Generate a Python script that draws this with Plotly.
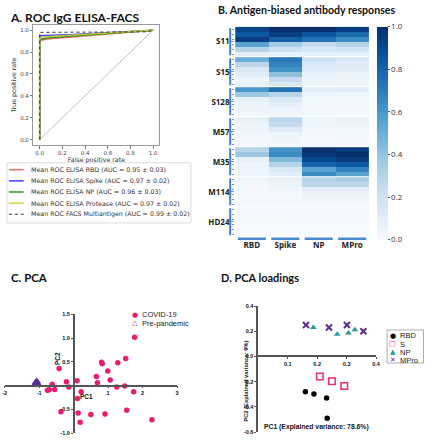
import plotly.graph_objects as go

W, H = 429, 440
def px(x): return x / W
def py(y): return 1 - y / H

# ---------------- Panel A data (ROC) ----------------
roc_labels = [
    "Mean ROC ELISA RBD (AUC = 0.95 ± 0.03)",
    "Mean ROC ELISA Spike (AUC = 0.97 ± 0.02)",
    "Mean ROC ELISA NP (AUC = 0.96 ± 0.03)",
    "Mean ROC ELISA Protease (AUC = 0.97 ± 0.02)",
    "Mean ROC FACS Multiantigen (AUC = 0.99 ± 0.02)",
]
fpr_rbd = [0, 0.0, 0.02, 0.07, 1.0]
tpr_rbd = [0, 0.90, 0.91, 0.92, 1.0]
fpr_spike = [0, 0.0, 0.3, 1.0]
tpr_spike = [0, 0.95, 0.96, 1.0]
fpr_np = [0, 0.0, 0.02, 0.07, 1.0]
tpr_np = [0, 0.91, 0.92, 0.93, 1.0]
fpr_prot = [0, 0.0, 0.05, 1.0]
tpr_prot = [0, 0.93, 0.94, 1.0]
fpr_facs = [0, 0.0, 0.95, 1.0]
tpr_facs = [0, 0.98, 0.985, 1.0]
roc_colors = ["rgba(240,90,90,0.9)", "rgba(40,40,255,0.9)", "rgba(20,150,20,0.95)",
              "rgba(205,205,50,0.9)", "#333"]

# ---------------- Panel B data (heatmap) ----------------
antigens = ["RBD", "Spike", "NP", "MPro"]
groups = ["S11", "S15", "S128", "M57", "M35", "M114", "HD24"]
S11 = [[0.92, 1.00, 1.00, 0.95], [0.85, 0.95, 0.85, 0.78], [0.95, 0.82, 0.75, 0.65],
       [0.55, 0.35, 0.25, 0.30], [0.30, 0.20, 0.15, 0.18], [0.10, 0.08, 0.08, 0.08]]
S15 = [[0.50, 0.72, 0.20, 0.15], [0.28, 0.68, 0.15, 0.12], [0.15, 0.62, 0.12, 0.10],
       [0.10, 0.42, 0.08, 0.06], [0.05, 0.25, 0.05, 0.05], [0.08, 0.15, 0.05, 0.05]]
S128 = [[0.60, 0.75, 0.10, 0.12], [0.38, 0.30, 0.05, 0.05], [0.08, 0.15, 0.03, 0.03],
        [0.06, 0.10, 0.03, 0.03], [0.05, 0.06, 0.02, 0.02], [0.03, 0.04, 0.02, 0.02]]
M57 = [[0.08, 0.28, 0.05, 0.08], [0.06, 0.25, 0.05, 0.06], [0.05, 0.12, 0.03, 0.04],
       [0.03, 0.06, 0.02, 0.03], [0.03, 0.04, 0.02, 0.02], [0.02, 0.03, 0.02, 0.02]]
M35 = [[0.30, 0.62, 1.00, 0.95], [0.38, 0.65, 0.97, 1.00], [0.08, 0.45, 0.90, 0.95],
       [0.05, 0.30, 0.80, 0.85], [0.05, 0.15, 0.55, 0.68], [0.05, 0.10, 0.65, 0.55]]
M114 = [[0.05, 0.08, 0.30, 0.35], [0.03, 0.05, 0.28, 0.28], [0.02, 0.03, 0.10, 0.10],
        [0.02, 0.02, 0.07, 0.07], [0.02, 0.02, 0.04, 0.04], [0.02, 0.02, 0.03, 0.03]]
HD24 = [[0.02, 0.02, 0.02, 0.02], [0.02, 0.02, 0.02, 0.02], [0.01, 0.01, 0.02, 0.02],
        [0.01, 0.01, 0.01, 0.01], [0.01, 0.01, 0.01, 0.01], [0.01, 0.01, 0.01, 0.01]]
group_rows = [S11, S15, S128, M57, M35, M114, HD24]
colorbar_ticks = [0.0, 0.2, 0.4, 0.6, 0.8, 1.0]

# ---------------- Panel C data (PCA) ----------------
covid_pc1 = [1.77, 1.51, 1.28, 0.81, 0.83, 0.99, -0.42, 0.66, 1.06, 0.69, 0.10, -0.21,
             -0.62, -0.14, -0.71, -0.55, -0.76, 1.25, 1.48, 1.74, 0.22, 0.11, -0.37,
             0.13, 0.50, 0.91, 1.54, 2.27, 0.19]
covid_pc2 = [1.02, 0.57, 0.48, 0.49, 0.46, 0.31, 0.36, 0.19, 0.12, 0.06, 0.10, 0.08,
             0.03, -0.03, -0.09, -0.08, -0.10, -0.03, -0.01, -0.13, -0.13, -0.27, -0.55,
             -0.58, -0.61, -0.60, -0.52, -0.72, -0.77]
pre_pc1 = [-1.10, -1.07, -1.05, -1.09, -1.12]
pre_pc2 = [0.03, 0.08, 0.04, 0.06, 0.02]
pca_xticks = [-2, -1, 1, 2, 3]
pca_yticks = [-1.0, -0.5, 0.5, 1.0, 1.5]

# ---------------- Panel D data (loadings) ----------------
rbd_pc1 = [0.160, 0.189, 0.232, 0.234]
rbd_pc2 = [-0.280, -0.297, -0.329, -0.490]
s_pc1 = [0.209, 0.250, 0.292]
s_pc2 = [-0.158, -0.197, -0.234]
np_pc1 = [0.187, 0.268, 0.306, 0.328]
np_pc2 = [0.230, 0.176, 0.187, 0.213]
mpro_pc1 = [0.162, 0.240, 0.301, 0.357]
mpro_pc2 = [0.250, 0.230, 0.250, 0.200]
load_xticks = [0.1, 0.2, 0.3, 0.4]
load_yticks = [-0.6, -0.4, -0.2, 0.0, 0.2, 0.4]

fig = go.Figure()
shapes, annots = [], []
def title_font(size):
    return dict(family="Lato", size=size, color="#111", weight="bold")

# ===== Panel A =====
rocs = [(fpr_rbd, tpr_rbd), (fpr_spike, tpr_spike), (fpr_np, tpr_np),
        (fpr_prot, tpr_prot), (fpr_facs, tpr_facs)]
fig.add_trace(go.Scatter(x=[0, 1], y=[0, 1], mode="lines", xaxis="x", yaxis="y",
                         line=dict(color="#b0b0b0", width=0.8), showlegend=False))
for i, (fx, ty) in enumerate(rocs):
    fig.add_trace(go.Scatter(x=fx, y=ty, mode="lines", xaxis="x", yaxis="y",
                             line=dict(color=roc_colors[i], width=1.0 if i == 4 else 1.5,
                                       dash="dot" if i == 4 else "solid"),
                             showlegend=False))
shapes.append(dict(type="rect", xref="paper", yref="paper", x0=px(5), x1=px(192),
                   y0=py(223), y1=py(162), line=dict(color="#dcdcdc", width=1)))
for i, lab in enumerate(roc_labels):
    yy = py(169 + i * 11.3)
    shapes.append(dict(type="line", xref="paper", yref="paper", x0=px(7), x1=px(22),
                       y0=yy, y1=yy,
                       line=dict(color=roc_colors[i], width=1.0 if i == 4 else 1.5,
                                 dash="dot" if i == 4 else "solid")))
    annots.append(dict(text=lab, xref="paper", yref="paper", x=px(27), y=yy,
                       xanchor="left", yanchor="middle", showarrow=False,
                       font=dict(family="DejaVu Sans", size=6.3, color="#333")))
annots.append(dict(text="A. ROC IgG ELISA-FACS", xref="paper", yref="paper", x=px(6),
                   y=py(15), xanchor="left", yanchor="middle", showarrow=False,
                   font=title_font(12)))

# ===== Panel B =====
z = [row for g in group_rows for row in g]
nrows = len(z)
blues = [[0.0, "#f7fbff"], [0.125, "#deebf7"], [0.25, "#c6dbef"], [0.375, "#9ecae1"],
         [0.5, "#6baed6"], [0.625, "#4292c6"], [0.75, "#2171b5"], [0.875, "#08519c"],
         [1.0, "#08306b"]]
fig.add_trace(go.Heatmap(
    z=z, x=antigens, y=list(range(nrows)), xaxis="x2", yaxis="y2",
    colorscale=blues, zmin=0, zmax=1, showscale=True,
    colorbar=dict(thickness=11, lenmode="pixels", len=213, x=px(381), xanchor="left",
                  y=py(24), yanchor="top", xpad=0, ypad=0, outlinewidth=0,
                  tickvals=colorbar_ticks, ticktext=[f"{v:.1f}" for v in colorbar_ticks],
                  ticks="outside", ticklen=2, tickcolor="#555",
                  tickfont=dict(family="Open Sans", size=8, color="#333"))))
per = nrows // len(groups)
for g in range(1, len(groups)):
    shapes.append(dict(type="line", xref="x2 domain", yref="y2", x0=0, x1=1,
                       y0=g * per - 0.5, y1=g * per - 0.5, line=dict(color="white", width=1)))
for g in range(len(groups)):
    shapes.append(dict(type="line", xref="paper", yref="y2", x0=px(232), x1=px(232),
                       y0=g * per - 0.5 + 0.3, y1=g * per + per - 0.5 - 0.3,
                       line=dict(color="#3f7fcb", width=2)))
for i in range(len(antigens)):
    shapes.append(dict(type="line", xref="x2", yref="paper", x0=i - 0.42, x1=i + 0.42,
                       y0=py(239), y1=py(239), line=dict(color="#4a89cc", width=2.5)))
annots.append(dict(text="B. Antigen-biased antibody responses", xref="paper", yref="paper",
                   x=px(218), y=py(7), xanchor="left", yanchor="middle", showarrow=False,
                   font=title_font(10.6)))

# ===== Panel C =====
fig.add_trace(go.Scatter(x=covid_pc1, y=covid_pc2, mode="markers", xaxis="x3", yaxis="y3",
                         marker=dict(color="#ee1c6c", size=5.5), cliponaxis=False,
                         showlegend=False))
fig.add_trace(go.Scatter(x=pre_pc1, y=pre_pc2, mode="markers", xaxis="x3", yaxis="y3",
                         marker=dict(symbol="triangle-up-open", color="#5a2d9c", size=6,
                                     line=dict(width=1.5)), cliponaxis=False, showlegend=False))
c_x0, c_x1 = px(2.7), px(178)
c_y0, c_y1 = py(436), py(315.7)
c_xr, c_yr = [-2, 3], [-1, 1.5]
c_xpos = c_x0 + (0 - c_xr[0]) / (c_xr[1] - c_xr[0]) * (c_x1 - c_x0)
c_ypos = c_y0 + (0 - c_yr[0]) / (c_yr[1] - c_yr[0]) * (c_y1 - c_y0)
for sym, col, lab, yy in [("●", "#ee1c6c", "COVID-19", 316), ("△", "#5a2d9c", "Pre-pandemic", 324.5)]:
    annots.append(dict(text=sym, xref="paper", yref="paper", x=px(135), y=py(yy),
                       xanchor="center", yanchor="middle", showarrow=False,
                       font=dict(family="DejaVu Sans", size=7, color=col, weight="bold")))
    annots.append(dict(text=lab, xref="paper", yref="paper", x=px(140), y=py(yy),
                       xanchor="left", yanchor="middle", showarrow=False,
                       font=dict(family="Liberation Sans", size=7.5, color="#222")))
annots.append(dict(text="PC1", xref="x3", yref="y3", x=0.37, y=-0.23, showarrow=False,
                   xanchor="center", yanchor="middle",
                   font=dict(family="Liberation Sans", size=6.5, weight="bold", color="#111")))
annots.append(dict(text="PC2", xref="x3", yref="y3", x=-0.47, y=0.57, showarrow=False,
                   xanchor="center", yanchor="middle", textangle=-90,
                   font=dict(family="Liberation Sans", size=6.5, weight="bold", color="#111")))
annots.append(dict(text="C. PCA", xref="paper", yref="paper", x=px(7), y=py(278),
                   xanchor="left", yanchor="middle", showarrow=False, font=title_font(11.5)))

# ===== Panel D =====
fig.add_trace(go.Scatter(x=rbd_pc1, y=rbd_pc2, mode="markers", xaxis="x4", yaxis="y4",
                         marker=dict(color="black", size=5.5), showlegend=False))
fig.add_trace(go.Scatter(x=s_pc1, y=s_pc2, mode="markers", xaxis="x4", yaxis="y4",
                         marker=dict(symbol="square-open", color="#ee2a7b", size=6.5,
                                     line=dict(width=1.5)), showlegend=False))
fig.add_trace(go.Scatter(x=np_pc1, y=np_pc2, mode="markers", xaxis="x4", yaxis="y4",
                         marker=dict(symbol="triangle-up", color="#2a9a98", size=6),
                         showlegend=False))
fig.add_trace(go.Scatter(x=mpro_pc1, y=mpro_pc2, mode="markers", xaxis="x4", yaxis="y4",
                         marker=dict(symbol="x-thin-open", color="#5b2c91", size=6,
                                     line=dict(width=2, color="#5b2c91")), showlegend=False))
d_x0, d_x1 = px(260.5), px(380.3)
d_y0, d_y1 = py(435), py(307.3)
d_xr, d_yr = [0, 0.4], [-0.6, 0.4]
d_ypos = d_y0 + (0 - d_yr[0]) / (d_yr[1] - d_yr[0]) * (d_y1 - d_y0)
shapes.append(dict(type="rect", xref="paper", yref="paper", x0=px(391.5), x1=px(428.5),
                   y0=py(365), y1=py(331.5), line=dict(color="#999", width=0.8)))
for sym, col, lab, yy in [("●", "black", "RBD", 337.5), ("□", "#ee2a7b", "S", 346),
                          ("▲", "#2a9a98", "NP", 354), ("✕", "#5b2c91", "MPro", 362)]:
    annots.append(dict(text=sym, xref="paper", yref="paper", x=px(397), y=py(yy),
                       xanchor="center", yanchor="middle", showarrow=False,
                       font=dict(family="DejaVu Sans", size=7, color=col, weight="bold")))
    annots.append(dict(text=lab, xref="paper", yref="paper", x=px(403), y=py(yy),
                       xanchor="left", yanchor="middle", showarrow=False,
                       font=dict(family="Liberation Sans", size=7.5, color="#222")))
annots.append(dict(text="PC1 (Explained variance: 78.6%)", xref="paper", yref="paper",
                   x=px(320), y=py(430), xanchor="center", yanchor="middle", showarrow=False,
                   font=dict(family="Liberation Sans", size=6.8, weight="bold", color="#111")))
annots.append(dict(text="PC2 (Explained variance: 9%)", xref="paper", yref="paper",
                   x=px(248), y=py(383), xanchor="center", yanchor="middle", showarrow=False,
                   textangle=-90,
                   font=dict(family="Liberation Sans", size=5.8, weight="bold", color="#111")))
annots.append(dict(text="D. PCA loadings", xref="paper", yref="paper", x=px(221), y=py(278),
                   xanchor="left", yanchor="middle", showarrow=False, font=title_font(11)))

small_gray = dict(family="DejaVu Sans", size=5.5, color="#444")
bold_tick = dict(family="Liberation Sans", size=5.5, color="#111", weight="bold")
fig.update_layout(
    width=W, height=H, margin=dict(l=0, r=0, t=0, b=0),
    paper_bgcolor="white", plot_bgcolor="white", showlegend=False,
    shapes=shapes, annotations=annots,
    xaxis=dict(domain=[px(32), px(160)], range=[-0.055, 1.055], anchor="y",
               showline=True, mirror=True, linecolor="#999", linewidth=1, showgrid=False,
               zeroline=False, ticks="outside", ticklen=2.5, tickcolor="#777",
               tickvals=[0, 0.2, 0.4, 0.6, 0.8, 1.0],
               ticktext=["0.0", "0.2", "0.4", "0.6", "0.8", "1.0"], tickfont=small_gray,
               title=dict(text="False positive rate", standoff=1,
                          font=dict(family="DejaVu Sans", size=6.3, color="#333"))),
    yaxis=dict(domain=[py(144), py(22)], range=[-0.05, 1.05], anchor="x",
               showline=True, mirror=True, linecolor="#999", linewidth=1, showgrid=False,
               zeroline=False, ticks="outside", ticklen=2.5, tickcolor="#777",
               tickvals=[0, 0.2, 0.4, 0.6, 0.8, 1.0],
               ticktext=["0.0", "0.2", "0.4", "0.6", "0.8", "1.0"], tickfont=small_gray,
               title=dict(text="True positive rate", standoff=2,
                          font=dict(family="DejaVu Sans", size=6.3, color="#333"))),
    xaxis2=dict(domain=[px(237), px(373)], anchor="y2", showgrid=False, zeroline=False,
                showline=False, ticks="", ticklabelstandoff=2,
                tickfont=dict(family="Open Sans", size=8, color="#222", weight="bold")),
    yaxis2=dict(domain=[py(237), py(24)], anchor="x2", autorange="reversed",
                showgrid=False, zeroline=False, showline=False,
                tickvals=[g * per + (per - 1) / 2 for g in range(len(groups))],
                ticktext=groups, ticks="outside", ticklen=3, tickcolor="#6a95cf",
                minor=dict(tickvals=list(range(nrows)), ticks="outside", ticklen=2,
                           tickcolor="#6a95cf"),
                tickfont=dict(family="Open Sans", size=8, color="#222", weight="bold")),
    xaxis3=dict(domain=[c_x0, c_x1], range=c_xr, anchor="free", position=c_ypos,
                showline=True, linecolor="#555", linewidth=1.5, showgrid=False,
                zeroline=False, ticks="outside", ticklen=2, tickcolor="#555",
                tickvals=pca_xticks, ticktext=[str(v) for v in pca_xticks], tickfont=bold_tick),
    yaxis3=dict(domain=[c_y0, c_y1], range=c_yr, anchor="free", position=c_xpos,
                showline=True, linecolor="#555", linewidth=1.5, showgrid=False,
                zeroline=False, ticks="outside", ticklen=2, tickcolor="#555",
                tickvals=pca_yticks, ticktext=[f"{v:.1f}" for v in pca_yticks],
                tickfont=bold_tick),
    xaxis4=dict(domain=[d_x0, d_x1], range=d_xr, anchor="free", position=d_ypos,
                showline=True, linecolor="#555", linewidth=1.5, showgrid=False,
                zeroline=False, ticks="outside", ticklen=2, tickcolor="#555",
                tickvals=load_xticks, ticktext=[f"{v:.1f}" for v in load_xticks],
                tickfont=bold_tick),
    yaxis4=dict(domain=[d_y0, d_y1], range=d_yr, anchor="x4",
                showline=True, linecolor="#555", linewidth=1.5, showgrid=False,
                zeroline=False, ticks="outside", ticklen=2, tickcolor="#555",
                tickvals=load_yticks, ticktext=[f"{v:.1f}" for v in load_yticks],
                tickfont=bold_tick),
)
fig.write_html("out.html", config={"displayModeBar": False},
               post_script="document.body.style.margin='0px';document.body.style.overflow='hidden';")
